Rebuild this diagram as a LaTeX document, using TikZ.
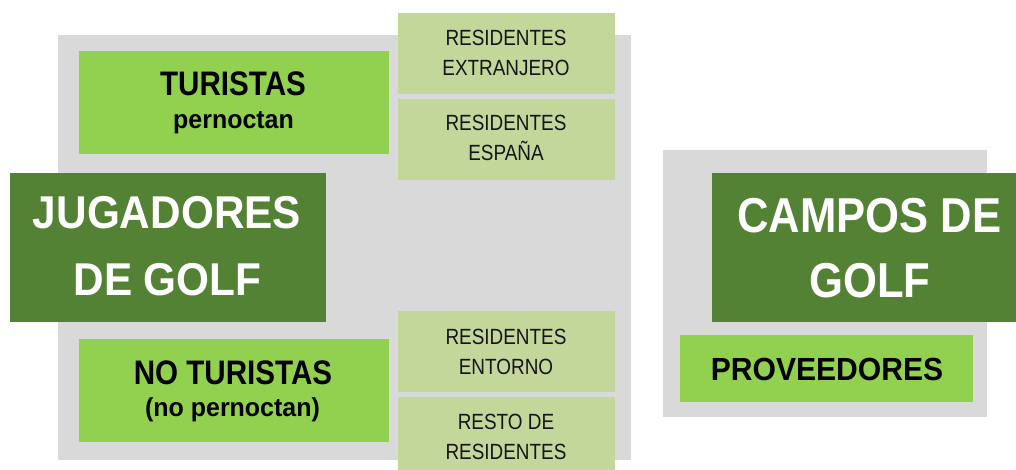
\documentclass[tikz,border=0pt]{standalone}
\usepackage{fontspec}
\setmainfont{Liberation Sans}
\usepackage{graphicx}
\definecolor{grayback}{HTML}{D9D9D9}
\definecolor{lightgreen}{HTML}{92D050}
\definecolor{palegreen}{HTML}{C4D79B}
\definecolor{darkgreen}{HTML}{548235}
\definecolor{textdark}{HTML}{151515}
\newcommand{\sx}[2]{\scalebox{#1}[1]{#2}}
\begin{document}
\begin{tikzpicture}[x=1pt,y=-1pt,
  panel/.style={fill=grayback,draw=none,inner sep=0pt,outer sep=0pt,anchor=north west},
  mainbox/.style={fill=darkgreen,draw=none,inner sep=0pt,outer sep=0pt,anchor=north west},
  groupbox/.style={fill=lightgreen,draw=none,inner sep=0pt,outer sep=0pt,anchor=north west},
  subbox/.style={fill=palegreen,draw=none,inner sep=0pt,outer sep=0pt,anchor=north west},
  bigtxt/.style={anchor=base,inner sep=0pt,text=white,font=\fontsize{46}{50}\selectfont\bfseries},
  camptxt/.style={anchor=base,inner sep=0pt,text=white,font=\fontsize{49}{54}\selectfont\bfseries},
  grouptxt/.style={anchor=base,inner sep=0pt,text=black,font=\fontsize{34}{38}\selectfont\bfseries},
  smalltxt/.style={anchor=base,inner sep=0pt,text=black,font=\fontsize{26}{30}\selectfont\bfseries},
  provtxt/.style={anchor=base,inner sep=0pt,text=black,font=\fontsize{32}{36}\selectfont\bfseries},
  subtxt/.style={anchor=base,inner sep=0pt,text=textdark,font=\fontsize{22}{25}\selectfont}
]
\useasboundingbox (0,0) rectangle (1016,470);
\fill[white] (0,0) rectangle (1016,470);

% grey panels
\node[panel,minimum width=573pt,minimum height=425pt] (leftpanel) at (58,35) {};
\node[panel,minimum width=324pt,minimum height=267pt] (rightpanel) at (663,150) {};

% left side boxes
\node[groupbox,minimum width=310pt,minimum height=103pt] (turbox) at (79,51) {};
\node[groupbox,minimum width=310pt,minimum height=103pt] (noturbox) at (79,339) {};
\node[subbox,minimum width=217pt,minimum height=81pt] (extbox) at (398,13) {};
\node[subbox,minimum width=217pt,minimum height=81pt] (espbox) at (398,99) {};
\node[subbox,minimum width=217pt,minimum height=81pt] (entbox) at (398,311) {};
\node[subbox,minimum width=217pt,minimum height=73pt] (restbox) at (398,397) {};
\node[mainbox,minimum width=316pt,minimum height=149pt] (jugbox) at (10,173) {};

% right side boxes
\node[mainbox,minimum width=304pt,minimum height=149pt] (campbox) at (712,173) {};
\node[groupbox,minimum width=293pt,minimum height=67pt] (provbox) at (680,335) {};

% texts
\node[grouptxt] (tur1) at (233,96) {\sx{0.87}{TURISTAS}};
\node[smalltxt] (tur2) at (233.5,129) {\sx{0.96}{pernoctan}};
\node[grouptxt] (notur1) at (233,384) {\sx{0.87}{NO TURISTAS}};
\node[smalltxt] (notur2) at (232.5,416) {\sx{0.96}{(no pernoctan)}};

\node[bigtxt] (jug1) at (167,229) {\sx{0.92}{JUGADORES}};
\node[bigtxt] (jug2) at (167.5,295) {\sx{0.92}{DE GOLF}};

\node[subtxt] (ext1) at (506,46) {\sx{0.86}{RESIDENTES}};
\node[subtxt] (ext2) at (506,76) {\sx{0.86}{EXTRANJERO}};
\node[subtxt] (esp1) at (506,131) {\sx{0.86}{RESIDENTES}};
\node[subtxt] (esp2) at (506,161) {\sx{0.86}{ESPAÑA}};
\node[subtxt] (ent1) at (506,344) {\sx{0.86}{RESIDENTES}};
\node[subtxt] (ent2) at (506,374) {\sx{0.86}{ENTORNO}};
\node[subtxt] (rest1) at (506,429) {\sx{0.86}{RESTO DE}};
\node[subtxt] (rest2) at (506,459) {\sx{0.86}{RESIDENTES}};

\node[camptxt] (camp1) at (869.5,233) {\sx{0.89}{CAMPOS DE}};
\node[camptxt] (camp2) at (870,297) {\sx{0.89}{GOLF}};
\node[provtxt] (prov) at (827,380) {\sx{0.94}{PROVEEDORES}};
\end{tikzpicture}
\end{document}
